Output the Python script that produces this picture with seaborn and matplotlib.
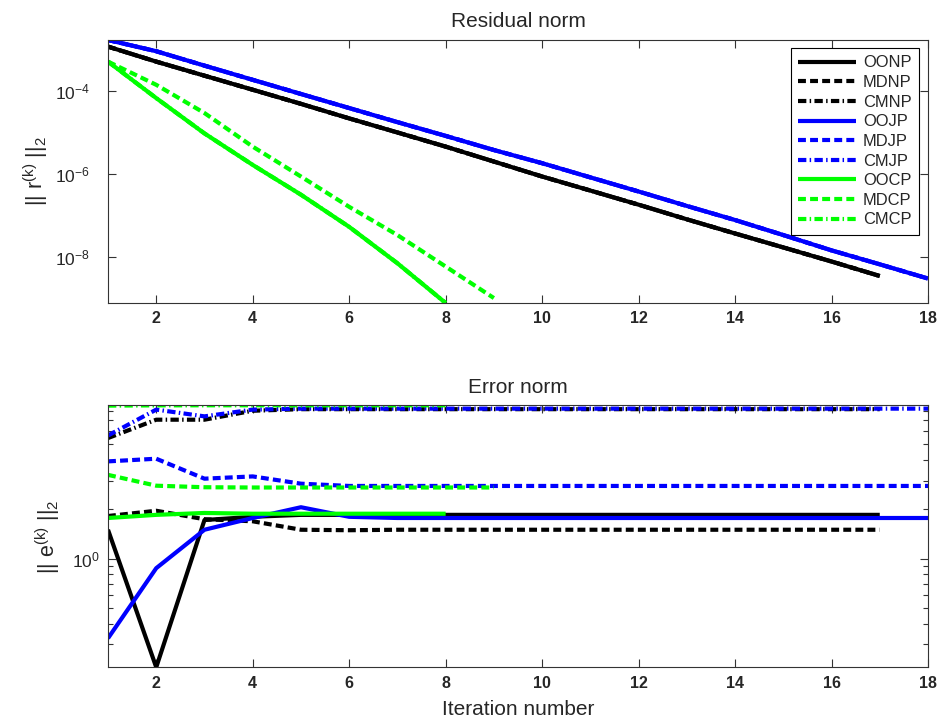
import numpy as np
import pandas as pd
import matplotlib
matplotlib.use("Agg")
import matplotlib.pyplot as plt
from matplotlib.ticker import FixedLocator, NullFormatter, NullLocator
import seaborn as sns

# ---- data ---------------------------------------------------------------
methods = ["OONP", "MDNP", "CMNP", "OOJP", "MDJP", "CMJP", "OOCP", "MDCP", "CMCP"]

# residual norms ||r^(k)||_2 per iteration
res_OONP = [1.15e-3, 5.0e-4, 2.29e-4, 1.05e-4, 4.8e-5, 2.14e-5, 9.8e-6, 4.47e-6, 1.95e-6,
            8.5e-7, 3.9e-7, 1.78e-7, 7.9e-8, 3.6e-8, 1.66e-8, 7.6e-9, 3.4e-9]
res_MDNP = list(res_OONP)
res_CMNP = list(res_OONP)
res_OOJP = [1.66e-3, 8.9e-4, 4.0e-4, 1.82e-4, 8.3e-5, 3.8e-5, 1.74e-5, 8.1e-6, 3.7e-6,
            1.78e-6, 8.1e-7, 3.7e-7, 1.66e-7, 7.6e-8, 3.3e-8, 1.41e-8, 6.5e-9, 2.95e-9]
res_MDJP = list(res_OOJP)
res_CMJP = list(res_OOJP)
res_OOCP = [5.0e-4, 6.6e-5, 9.3e-6, 1.62e-6, 3.1e-7, 5.2e-8, 6.9e-9, 7.6e-10]
res_MDCP = [5.0e-4, 1.38e-4, 2.88e-5, 4.47e-6, 8.5e-7, 1.58e-7, 3.3e-8, 5.75e-9, 1.0e-9]
res_CMCP = list(res_OOCP)

# error norms ||e^(k)||_2 per iteration
err_OONP = [1.50, 0.216, 1.72, 1.80] + [1.85] * 13
err_MDNP = [1.82, 1.96, 1.74, 1.69, 1.50, 1.49] + [1.50] * 11
err_CMNP = [5.46, 7.07, 7.07, 8.02] + [8.20] * 13
err_OOJP = [0.325, 0.873, 1.50, 1.77, 2.06, 1.80] + [1.77] * 12
err_MDJP = [3.93, 4.08, 3.08, 3.18, 2.87, 2.78] + [2.78] * 12
err_CMJP = [5.66, 8.15, 7.41, 8.15] + [8.26] * 14
err_OOCP = [1.77, 1.85, 1.90, 1.88, 1.88, 1.88, 1.88, 1.88]
err_MDCP = [3.25, 2.79, 2.73, 2.72, 2.72, 2.72, 2.72, 2.72, 2.72]
err_CMCP = [8.62, 8.65, 8.66, 8.66, 8.66, 8.66, 8.66, 8.66]

residuals = [res_OONP, res_MDNP, res_CMNP, res_OOJP, res_MDJP, res_CMJP, res_OOCP, res_MDCP, res_CMCP]
errors = [err_OONP, err_MDNP, err_CMNP, err_OOJP, err_MDJP, err_CMJP, err_OOCP, err_MDCP, err_CMCP]

x_ticks = [2, 4, 6, 8, 10, 12, 14, 16, 18]
res_ticks = [1e-8, 1e-6, 1e-4]
err_ticks = [1.0]
err_minor_ticks = [0.3, 0.4, 0.5, 0.6, 0.7, 0.8, 0.9, 2, 3, 4, 5, 6, 7, 8]


def long_frame(series):
    rows = []
    for name, vals in zip(methods, series):
        for k, v in enumerate(vals, start=1):
            rows.append({"method": name, "iteration": k, "norm": v})
    return pd.DataFrame(rows)


df_res = long_frame(residuals)
df_err = long_frame(errors)

# ---- styling --------------------------------------------------------------
sns.set_theme(style="white")
plt.rcParams["font.family"] = ["Liberation Sans", "DejaVu Sans"]
plt.rcParams["mathtext.fontset"] = "custom"
plt.rcParams["mathtext.rm"] = "Liberation Sans"
plt.rcParams["mathtext.it"] = "Liberation Sans"
plt.rcParams["mathtext.bf"] = "Liberation Sans:bold"

colors = {"NP": "#000000", "JP": "#0000ff", "CP": "#00ff00"}
styles = {"OO": "-", "MD": (0, (1.9, 1.0)), "CM": (0, (2.0, 0.8, 0.35, 0.8))}
LW = 3.0
AX_COLOR = "#333333"

fig = plt.figure(figsize=(9.4, 7.23), dpi=100)
W, H = 940, 723
ax1 = fig.add_axes([108 / W, 1 - 303 / H, 820 / W, 263 / H])
ax2 = fig.add_axes([108 / W, 1 - 667.3 / H, 820 / W, 262 / H])


def draw(ax, df):
    for name in methods:
        sub = df[df["method"] == name]
        sns.lineplot(data=sub, x="iteration", y="norm", ax=ax,
                     color=colors[name[2:]], linestyle=styles[name[:2]],
                     lw=LW, label=name, legend=False, errorbar=None,
                     solid_capstyle="butt", dash_capstyle="butt")
    ax.set_yscale("log")
    ax.set_xlim(1, 18)
    ax.set_ylim(df["norm"].min(), df["norm"].max())
    ax.xaxis.set_major_locator(FixedLocator(x_ticks))
    ax.xaxis.set_minor_locator(NullLocator())
    for s in ax.spines.values():
        s.set_color(AX_COLOR)
        s.set_linewidth(0.8)
    ax.set_xlabel("")


draw(ax1, df_res)
draw(ax2, df_err)

# top panel: labelled decades only
ax1.yaxis.set_major_locator(FixedLocator(res_ticks))
ax1.yaxis.set_minor_locator(NullLocator())

# bottom panel: one labelled decade plus minor ticks
ax2.yaxis.set_major_locator(FixedLocator(err_ticks))
ax2.yaxis.set_minor_locator(FixedLocator(err_minor_ticks))
ax2.yaxis.set_minor_formatter(NullFormatter())

for ax in (ax1, ax2):
    ax.tick_params(which="both", direction="in", top=True, right=True,
                   left=True, bottom=True, color=AX_COLOR, width=0.8)
    ax.tick_params(which="major", length=5.8)
    ax.tick_params(which="minor", length=3.6, width=0.8)
    ax.tick_params(axis="x", labelsize=11.5, pad=6)
    for t in ax.get_xticklabels():
        t.set_fontweight("bold")

ax1.tick_params(axis="y", which="major", labelsize=12.5, pad=13)
ax2.tick_params(axis="y", which="major", labelsize=12.5, pad=6)

ax1.set_title("Residual norm", fontsize=15, pad=9.4)
ax2.set_title("Error norm", fontsize=15, pad=8.6)
ax1.set_ylabel("|| r$^{(k)}$ ||$_2$", fontsize=15.5)
ax2.set_ylabel("|| e$^{(k)}$ ||$_2$", fontsize=15.5)
ax1.yaxis.set_label_coords((50 - 108) / 820, 0.5)
ax2.yaxis.set_label_coords((62 - 108) / 820, 0.5)
ax2.set_xlabel("Iteration number", fontsize=15, labelpad=7)

leg = ax1.legend(loc="upper right", bbox_to_anchor=((919 - 108) / 820, (303 - 48) / 263),
                 borderaxespad=0, fontsize=11.9, handlelength=3.5, handletextpad=0.4,
                 labelspacing=0.28, borderpad=0.45, fancybox=False, framealpha=1,
                 edgecolor="#000000")
leg.get_frame().set_linewidth(0.8)

fig.savefig("out.png", dpi=100, facecolor="white")
